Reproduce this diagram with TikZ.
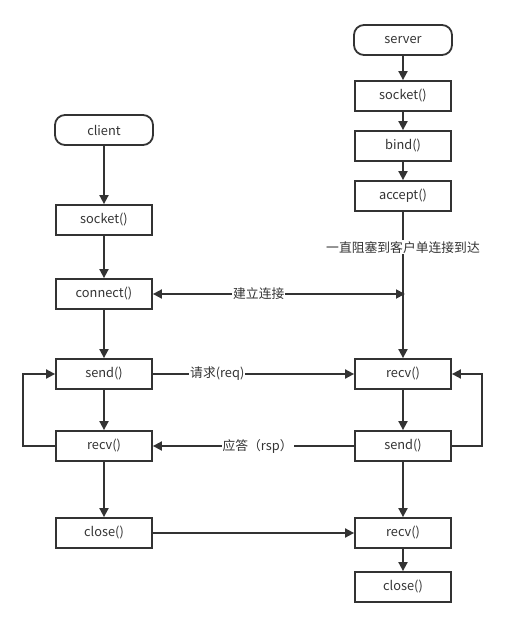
\documentclass[tikz,border=0pt]{standalone}
\usepackage{fontspec}
\setmainfont{Noto Sans CJK SC}
\usetikzlibrary{arrows.meta}
\definecolor{ink}{HTML}{333333}
\tikzset{every node/.style={font=\fontsize{12.8}{14}\selectfont, text=ink}}
\tikzset{func/.style={draw=ink, line width=1.8pt, minimum width=96pt, minimum height=30pt, inner sep=0pt}}
\tikzset{term/.style={func, minimum width=98pt, rounded corners=10pt}}
\tikzset{flow/.style={draw=ink, line width=1.8pt, -{Triangle[length=9pt,width=9pt]}}}
\tikzset{msg/.style={fill=white, inner sep=1pt}}

\begin{document}
\begin{tikzpicture}[x=1pt, y=-1pt]
\useasboundingbox (0,0) rectangle (506,627);

% client side
\node[term] (client) at (104,130) {client};
\node[func] (csocket) at (104,220) {socket()};
\node[func] (connect) at (104,294) {connect()};
\node[func] (csend) at (104,374) {send()};
\node[func] (crecv) at (104,446) {recv()};
\node[func] (cclose) at (104,533) {close()};

% server side
\node[term] (server) at (403,40) {server};
\node[func] (ssocket) at (403,96) {socket()};
\node[func] (bind) at (403,146) {bind()};
\node[func] (accept) at (403,196) {accept()};
\node[func] (srecv) at (403,374) {recv()};
\node[func] (ssend) at (403,446) {send()};
\node[func] (srecv2) at (403,533) {recv()};
\node[func] (sclose) at (403,587) {close()};
\coordinate (meet) at (405,294);

\draw[flow] (client) -- (csocket);
\draw[flow] (csocket) -- (connect);
\draw[flow] (connect) -- (csend);
\draw[flow] (csend) -- (crecv);
\draw[flow] (crecv) -- (cclose);
\draw[flow] (crecv.west) -- ++(-32,0) |- (csend.west);

\draw[flow] (server) -- (ssocket);
\draw[flow] (ssocket) -- (bind);
\draw[flow] (bind) -- (accept);
\draw[flow] (accept) -- node[msg, pos=0.243] {一直阻塞到客户单连接到达} (srecv);
\draw[flow] (srecv) -- (ssend);
\draw[flow] (ssend) -- (srecv2);
\draw[flow] (srecv2) -- (sclose);
\draw[flow] (ssend.east) -- ++(30,0) |- (srecv.east);

% messages
\draw[flow, {Triangle[length=9pt,width=9pt]}-{Triangle[length=9pt,width=9pt]}] (connect) -- node[msg, pos=0.42] {建立连接} (meet);
\draw[flow] (csend) -- node[msg, pos=0.32] {请求(req)} (srecv);
\draw[flow] (ssend) -- node[msg, pos=0.48] {应答（rsp）} (crecv);
\draw[flow] (cclose) -- (srecv2);

\end{tikzpicture}
\end{document}
